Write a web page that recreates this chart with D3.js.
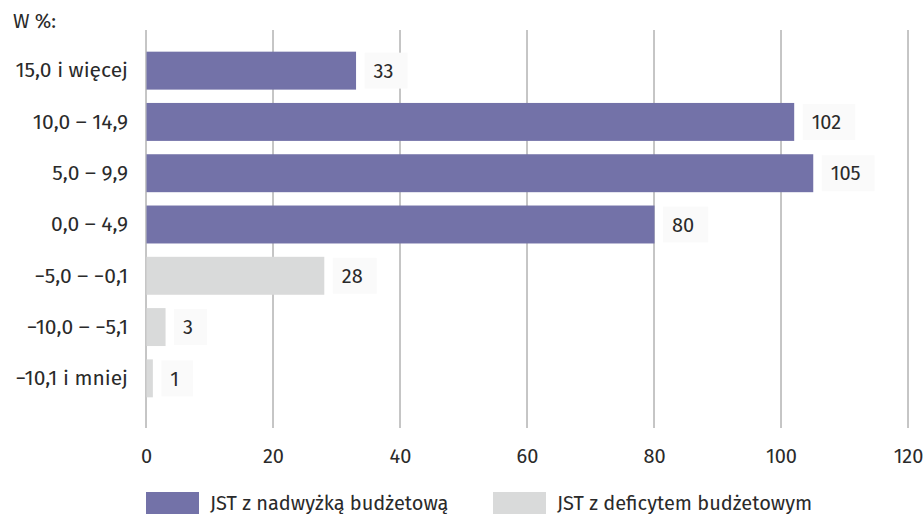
<!DOCTYPE html>
<html>
<head>
<meta charset="utf-8">
<script src="https://cdn.jsdelivr.net/npm/d3@7"></script>
<style>
  body { margin: 0; background: #fff; }
  text { font-family: "Fira Sans", "Noto Sans", sans-serif; fill: #2a2a2a; }
</style>
</head>
<body>
<script>
// categories (top to bottom), values and which series each bar belongs to
var categories = ["15,0 i więcej", "10,0 – 14,9", "5,0 – 9,9", "0,0 – 4,9", "−5,0 – −0,1", "−10,0 – −5,1", "−10,1 i mniej"];
var values = [33, 102, 105, 80, 28, 3, 1];
var groups = ["nadwyzka", "nadwyzka", "nadwyzka", "nadwyzka", "deficyt", "deficyt", "deficyt"];
var seriesNames = ["JST z nadwyżką budżetową", "JST z deficytem budżetowym"];
var xTicks = [0, 20, 40, 60, 80, 100, 120];

var colors = {nadwyzka: "#7372a8", deficyt: "#d9dada"};
var fs = "20px";

var width = 924, height = 514;
var svg = d3.select("body").append("svg")
	.attr("width", width)
	.attr("height", height);

var x = d3.scaleLinear().domain([0, 120]).range([146, 908]);
var y = d3.scaleBand().domain(categories).range([45, 404]).paddingInner(0.26).paddingOuter(0.13);

// gridlines
svg.selectAll("line.grid")
	.data(xTicks)
	.enter().append("line")
	.attr("class", "grid")
	.attr("x1", function(d){ return x(d); })
	.attr("x2", function(d){ return x(d); })
	.attr("y1", 30)
	.attr("y2", 428)
	.attr("stroke", "#8c8c8c")
	.attr("stroke-width", 1);

// bars
svg.selectAll("rect.bar")
	.data(values)
	.enter().append("rect")
	.attr("class", "bar")
	.attr("x", x(0) + 0.5)
	.attr("y", function(d, i){ return y(categories[i]); })
	.attr("width", function(d){ return x(d) - x(0); })
	.attr("height", y.bandwidth())
	.attr("fill", function(d, i){ return colors[groups[i]]; });

// value labels with faint background
var lab = svg.selectAll("g.lab")
	.data(values)
	.enter().append("g")
	.attr("class", "lab")
	.attr("transform", function(d, i){ return "translate(" + (x(d) + 9) + "," + y(categories[i]) + ")"; });

var bg = lab.append("rect")
	.attr("y", 1)
	.attr("height", y.bandwidth() - 2)
	.attr("fill", "#fafafa");

var vt = lab.append("text")
	.attr("x", 9)
	.attr("y", y.bandwidth() / 2)
	.attr("dy", "0.36em")
	.style("font-size", fs)
	.text(function(d){ return d; });

bg.attr("width", function(d, i){ return vt.nodes()[i].getComputedTextLength() + 23; });

// category axis
var yAxis = svg.append("g")
	.attr("transform", "translate(" + x(0) + ",0)")
	.call(d3.axisLeft(y).tickSize(0).tickPadding(18));
yAxis.select(".domain").remove();
yAxis.selectAll("text")
	.style("font-size", "21px")
	.style("font-family", "'Fira Sans', 'Noto Sans', sans-serif")
	.attr("fill", "#2a2a2a");

// value axis
var xAxis = svg.append("g")
	.attr("transform", "translate(0,449)")
	.call(d3.axisBottom(x).tickValues(xTicks).tickSize(0).tickPadding(0));
xAxis.select(".domain").remove();
xAxis.selectAll("text")
	.style("font-size", fs)
	.style("font-family", "'Fira Sans', 'Noto Sans', sans-serif")
	.attr("fill", "#2a2a2a");

// unit label
svg.append("text")
	.attr("x", 13)
	.attr("y", 28)
	.style("font-size", fs)
	.text("W %:");

// legend
var legendX = [146, 493];
var legend = svg.selectAll("g.legend")
	.data(seriesNames)
	.enter().append("g")
	.attr("class", "legend")
	.attr("transform", function(d, i){ return "translate(" + legendX[i] + ",492)"; });

legend.append("rect")
	.attr("width", 53)
	.attr("height", 26)
	.attr("fill", function(d, i){ return i == 0 ? colors.nadwyzka : colors.deficyt; });

legend.append("text")
	.attr("x", 64)
	.attr("y", 11)
	.attr("dy", "0.36em")
	.style("font-size", fs)
	.text(function(d){ return d; });
</script>
</body>
</html>
